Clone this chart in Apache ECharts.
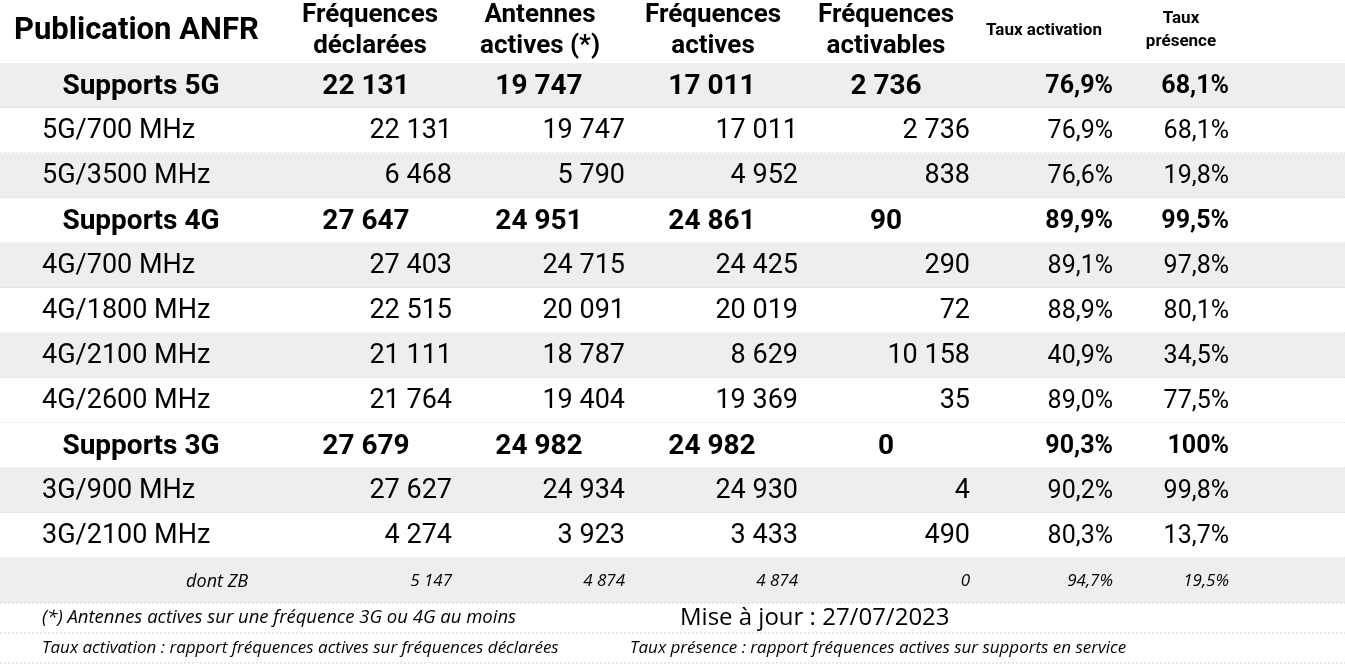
<!DOCTYPE html>
<html><head><meta charset="utf-8">
<script src="https://cdn.jsdelivr.net/npm/echarts@6/dist/echarts.min.js"></script>
<style>html,body{margin:0;padding:0;background:#fff}#c{width:1345px;height:666px}</style>
</head><body><div id="c"></div>
<script>
;(function () {
  'use strict'

  var rowLabels = ['Supports 5G', '5G/700 MHz', '5G/3500 MHz', 'Supports 4G', '4G/700 MHz', '4G/1800 MHz',
    '4G/2100 MHz', '4G/2600 MHz', 'Supports 3G', '3G/900 MHz', '3G/2100 MHz', 'dont ZB']
  var rowKinds = ['total', 'sub', 'sub', 'total', 'sub', 'sub', 'sub', 'sub', 'total', 'sub', 'sub', 'note']
  var freqDeclared = ['22 131', '22 131', '6 468', '27 647', '27 403', '22 515', '21 111', '21 764', '27 679', '27 627', '4 274', '5 147']
  var activeAntennas = ['19 747', '19 747', '5 790', '24 951', '24 715', '20 091', '18 787', '19 404', '24 982', '24 934', '3 923', '4 874']
  var freqActive = ['17 011', '17 011', '4 952', '24 861', '24 425', '20 019', '8 629', '19 369', '24 982', '24 930', '3 433', '4 874']
  var freqActivable = ['2 736', '2 736', '838', '90', '290', '72', '10 158', '35', '0', '4', '490', '0']
  var activationRate = ['76,9%', '76,9%', '76,6%', '89,9%', '89,1%', '88,9%', '40,9%', '89,0%', '90,3%', '90,2%', '80,3%', '94,7%']
  var presenceRate = ['68,1%', '68,1%', '19,8%', '99,5%', '97,8%', '80,1%', '34,5%', '77,5%', '100%', '99,8%', '13,7%', '19,5%']
  var columns = [freqDeclared, activeAntennas, freqActive, freqActivable, activationRate, presenceRate]

  // layout: right edges for normal rows, centres for bold rows, shaded rows
  var RIGHT = [452, 625, 798, 970, 1113, 1229]
  var CENTER = [366, 539, 712, 886]
  var SHADED = [0, 2, 4, 6, 9, 11]
  var FONT = 'Roboto, sans-serif'
  var ITAL = '"Open Sans", sans-serif'

  var chart = echarts.init(document.getElementById('c'))

  function renderItem(params, api) {
    var i = api.value(0)
    var kind = rowKinds[i]
    var p0 = api.coord([0, i])
    var h = api.size([0, 1])[1]
    var top = p0[1] - h / 2
    var cy = p0[1] + 1
    var children = [{
      type: 'rect', shape: { x: 0, y: top, width: 1345, height: h },
      style: { fill: SHADED.indexOf(i) >= 0 ? '#eeeeee' : '#ffffff' }
    }, {
      type: 'line', shape: { x1: 0, y1: top + h, x2: 1345, y2: top + h },
      style: { stroke: '#d4d4d4', lineWidth: 1, lineDash: [2, 2] }
    }]
    var base = { fill: '#000', verticalAlign: 'middle' }
    if (kind === 'total') {
      children.push({ type: 'text', style: Object.assign({ x: 141, y: cy, text: rowLabels[i], align: 'center', font: 'bold 28px ' + FONT }, base) })
      columns.forEach(function (col, c) {
        var x = c < 4 ? CENTER[c] : RIGHT[c]
        children.push({ type: 'text', style: Object.assign({ x: x, y: cy, text: col[i], align: c < 4 ? 'center' : 'right', font: 'bold ' + (c < 4 ? 28 : 25) + 'px ' + FONT }, base) })
      })
    } else if (kind === 'sub') {
      children.push({ type: 'text', style: Object.assign({ x: 42, y: cy, text: rowLabels[i], align: 'left', font: '27px ' + FONT }, base) })
      columns.forEach(function (col, c) {
        children.push({ type: 'text', style: Object.assign({ x: RIGHT[c], y: cy, text: col[i], align: 'right', font: (c < 4 ? 27 : 25) + 'px ' + FONT }, base) })
      })
    } else {
      children.push({ type: 'text', style: Object.assign({ x: 248, y: cy, text: rowLabels[i], align: 'right', font: 'italic 18px ' + ITAL }, base) })
      columns.forEach(function (col, c) {
        children.push({ type: 'text', style: Object.assign({ x: RIGHT[c], y: cy, text: col[i], align: 'right', font: 'italic 17px ' + ITAL }, base) })
      })
    }
    return { type: 'group', children: children }
  }

  var hdr = 'bold 26px ' + FONT
  function head(x, text) {
    return { type: 'text', x: x, y: 31, style: { text: text, font: hdr, fill: '#000', align: 'center', verticalAlign: 'middle', lineHeight: 31 } }
  }
  chart.setOption({
    animation: false,
    grid: { left: 0, right: 0, top: 63, bottom: 63 },
    xAxis: { type: 'value', min: 0, max: 1345, show: false },
    yAxis: { type: 'category', data: rowLabels, inverse: true, show: false },
    series: [{
      type: 'custom', renderItem: renderItem,
      data: rowLabels.map(function (_, i) { return [i] })
    }],
    graphic: [
      { type: 'text', x: 14, y: 31, style: { text: 'Publication ANFR', font: 'bold 31px ' + FONT, fill: '#000', verticalAlign: 'middle' } },
      head(370, 'Fréquences\ndéclarées'),
      head(540, 'Antennes\nactives (*)'),
      head(713, 'Fréquences\nactives'),
      head(886, 'Fréquences\nactivables'),
      { type: 'text', x: 1044, y: 31, style: { text: 'Taux activation', font: 'bold 17px ' + FONT, fill: '#000', align: 'center', verticalAlign: 'middle' } },
      { type: 'text', x: 1181, y: 30, style: { text: 'Taux\nprésence', font: 'bold 17px ' + FONT, fill: '#000', align: 'center', verticalAlign: 'middle', lineHeight: 23 } },
      { type: 'text', x: 42, y: 618, style: { text: '(*) Antennes actives sur une fréquence 3G ou 4G au moins', font: 'italic 18.5px ' + ITAL, fill: '#000', verticalAlign: 'middle' } },
      { type: 'text', x: 680, y: 618, style: { text: 'Mise à jour : 27/07/2023', font: '24px ' + ITAL, fill: '#000', verticalAlign: 'middle' } },
      { type: 'line', shape: { x1: 0, y1: 633, x2: 1345, y2: 633 }, style: { stroke: '#d4d4d4', lineDash: [2, 2] } },
      { type: 'text', x: 42, y: 648, style: { text: 'Taux activation : rapport fréquences actives sur fréquences déclarées', font: 'italic 17px ' + ITAL, fill: '#000', verticalAlign: 'middle' } },
      { type: 'text', x: 630, y: 648, style: { text: 'Taux présence : rapport fréquences actives sur supports en service', font: 'italic 17px ' + ITAL, fill: '#000', verticalAlign: 'middle' } },
      { type: 'line', shape: { x1: 0, y1: 663, x2: 1345, y2: 663 }, style: { stroke: '#d4d4d4', lineDash: [2, 2] } }
    ]
  })
})()
</script></body></html>
